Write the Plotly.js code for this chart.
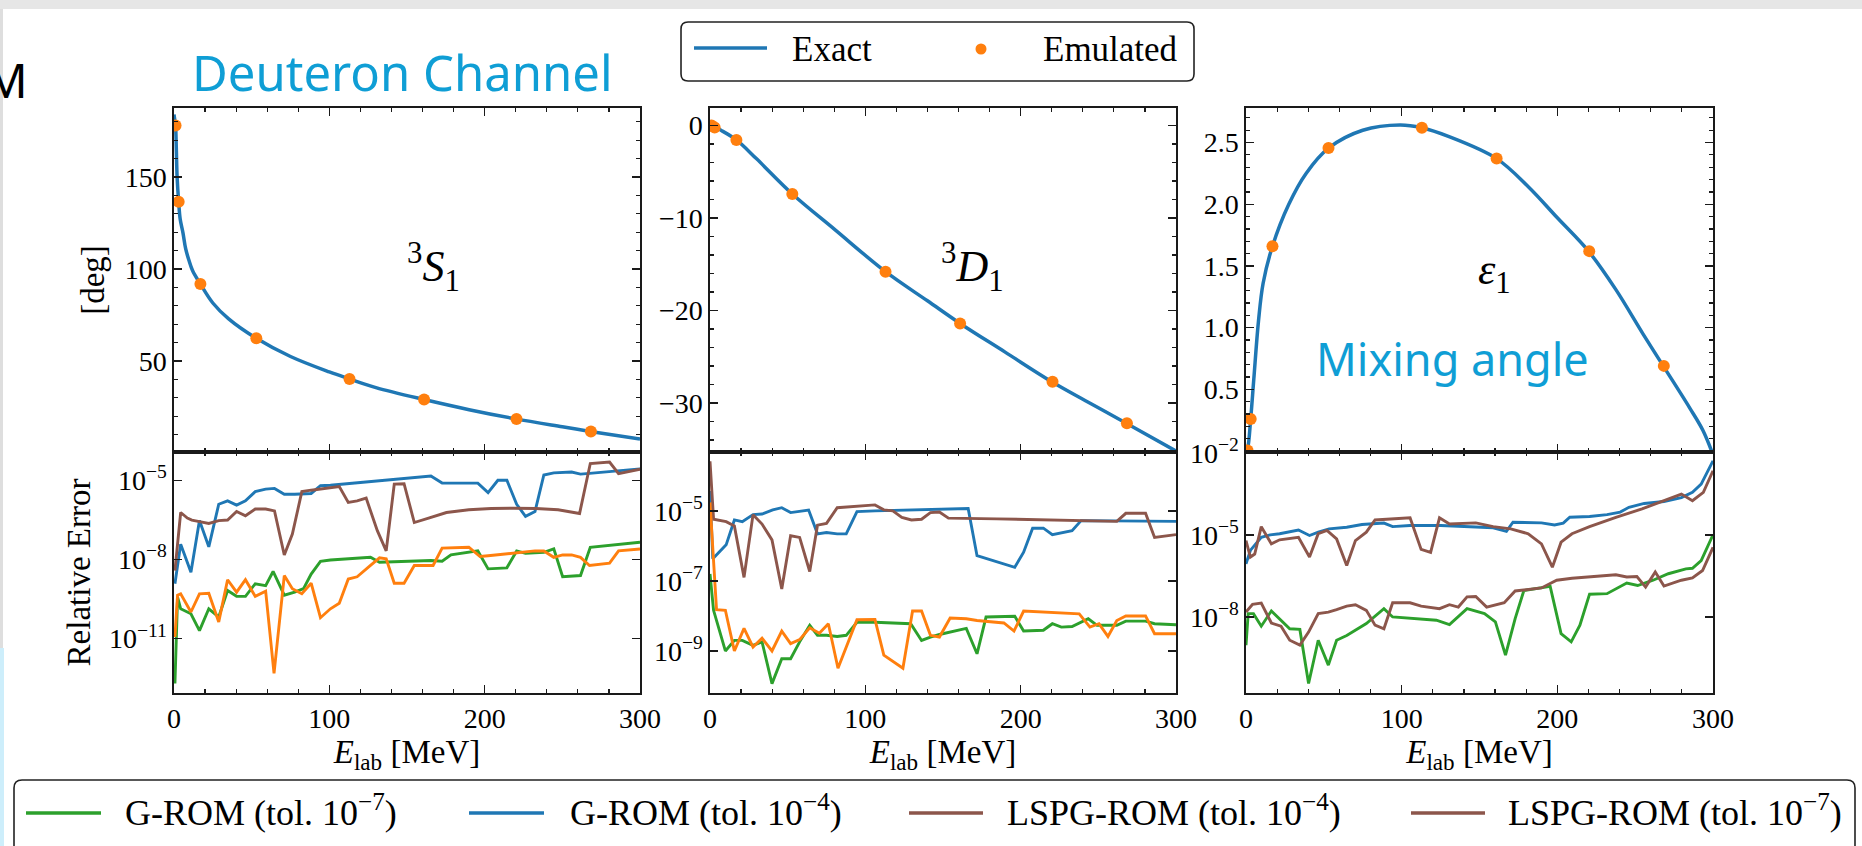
<!DOCTYPE html>
<html><head><meta charset="utf-8">
<script src="https://cdn.plot.ly/plotly-3.0.1.min.js"></script>
<style>html,body{margin:0;padding:0;background:#fff;overflow:hidden}#chart{width:1862px;height:846px}</style>
</head><body><div id="chart"></div>
<script>
// ---------------- DATA ----------------
// Emulated points (shared energies) and exact curves, E_lab in MeV
const emuE = [1, 3, 17, 53, 113, 161, 220.5, 268.4];
const emuS1 = [178, 136.5, 91.8, 62.3, 40.2, 29, 18.5, 11.7];
const emuD1 = [0, -0.2, -1.55, -7.4, -15.8, -21.4, -27.7, -32.2];
const emuEps1 = [0.005, 0.26, 1.66, 2.455, 2.62, 2.37, 1.62, 0.69];

const exactS1E = [0, 0.5, 1, 1.5, 2, 3, 4, 5.8, 7.5, 9.5, 12, 17, 25, 35, 53, 75, 100, 113, 130, 161, 190, 220, 250, 268, 300];
const exactS1 = [184, 181, 178, 165, 150, 136.5, 127, 119.5, 111, 105, 99, 91.8, 81.5, 73, 62.3, 52.4, 44.0, 40.2, 35.5, 29, 23.5, 18.5, 14.2, 11.7, 7.6];
const exactD1E = [0, 3, 8, 17, 30, 53, 80, 113, 140, 161, 190, 220, 245, 268, 300];
const exactD1 = [0, -0.15, -0.6, -1.55, -3.6, -7.4, -11.2, -15.8, -18.95, -21.4, -24.5, -27.7, -30.05, -32.2, -35.2];
const exactEpsE = [0, 1, 3, 5, 8, 11, 17, 27.5, 38.6, 53, 75, 99, 113, 130, 161, 181.5, 200, 220, 237.5, 255, 268, 285, 293.4, 300];
const exactEps = [0, 0.02, 0.26, 0.58, 1.05, 1.36, 1.66, 2.0, 2.25, 2.455, 2.6, 2.643, 2.62, 2.55, 2.37, 2.14, 1.89, 1.62, 1.31, 0.95, 0.69, 0.35, 0.17, -0.03];

// Relative errors, 3S1 panel
const s1GromT7E = [0.6, 2.3, 4.3, 10.9, 16.4, 22.4, 28.8, 34.5, 40.3, 46.0, 52.3, 59.0, 63.8, 71.0, 77.7, 83.4, 88.3, 94.3, 100.7, 126.5, 132.3, 165.4, 172.6, 178.3, 195.6, 202.2, 214.3, 220.6, 226.3, 238.1, 244.5, 250.2, 261.7, 268.0, 300];
const s1GromT7 = [2.0e-13, 3.7e-10, 1.35e-10, 8.7e-11, 2.0e-11, 1.35e-10, 6.6e-11, 6.6e-10, 4.0e-10, 4.0e-10, 1.2e-9, 1.02e-9, 3.5e-9, 4.4e-10, 5.75e-10, 7.8e-10, 2.8e-9, 8.5e-9, 9.5e-9, 1.2e-8, 7.8e-9, 9.1e-9, 8.5e-9, 1.48e-8, 2.1e-8, 4.4e-9, 4.8e-9, 2.1e-8, 1.7e-8, 1.86e-8, 2.5e-8, 2.2e-9, 2.45e-9, 2.9e-8, 4.5e-8];
const s1GromT4E = [0.6, 4.3, 10.9, 16.4, 22.4, 28.8, 34.5, 40.3, 46.0, 52.3, 59.0, 64.7, 71.0, 77.7, 88.3, 94.3, 100.7, 165.4, 172.6, 195.6, 202.2, 208.5, 214.3, 220.6, 226.3, 232.4, 238.1, 244.5, 256.0, 261.7, 267.5, 300];
const s1GromT4 = [1.2e-9, 3.8e-8, 3.3e-9, 3.0e-7, 3.0e-8, 1.23e-6, 1.66e-6, 1.15e-6, 1.66e-6, 3.7e-6, 4.6e-6, 4.9e-6, 2.95e-6, 2.95e-6, 3.16e-6, 6.2e-6, 6.5e-6, 1.45e-5, 7.8e-6, 7.8e-6, 3.4e-6, 1.0e-5, 1.0e-5, 1.23e-6, 4.3e-7, 6.5e-7, 1.58e-5, 1.9e-5, 2.04e-5, 1.7e-5, 1.82e-5, 2.7e-5];
const s1LspgT4E = [0.6, 4.3, 8.6, 11.5, 16.4, 22.4, 28.8, 34.5, 40.3, 46.0, 52.3, 59.0, 64.7, 71.0, 76.2, 82.3, 88.3, 94.3, 100.7, 106.4, 112.2, 117.9, 123.7, 130.9, 136.6, 141.8, 148.1, 154.7, 163.9, 175.4, 189.8, 204.2, 218.6, 233.0, 247.3, 261.1, 268.0, 274.7, 280.4, 286.2, 300];
const s1LspgT4 = [3.8e-9, 6.0e-7, 3.7e-7, 3.1e-7, 2.7e-7, 2.3e-7, 2.95e-7, 3.1e-7, 6.6e-7, 4.5e-7, 8.1e-7, 8.1e-7, 6.9e-7, 1.48e-8, 9.1e-8, 3.7e-6, 4.2e-6, 4.6e-6, 5.25e-6, 5.75e-6, 1.45e-6, 1.66e-6, 2.1e-6, 1.23e-7, 2.1e-8, 7.1e-6, 7.4e-6, 2.5e-7, 3.7e-7, 6.0e-7, 7.6e-7, 8.5e-7, 8.7e-7, 8.5e-7, 7.6e-7, 5.5e-7, 4.3e-5, 4.7e-5, 4.9e-5, 1.78e-5, 2.6e-5];
const s1LspgT7E = [0.6, 2.3, 4.3, 10.9, 16.4, 22.4, 28.8, 34.5, 40.3, 46.0, 52.3, 59.0, 64.4, 71.0, 76.2, 82.3, 88.3, 94.3, 100.7, 106.4, 112.2, 117.9, 126.5, 132.3, 136.6, 141.8, 148.1, 154.7, 166.8, 172.6, 189.8, 197.0, 202.2, 214.3, 220.6, 232.4, 238.1, 244.5, 250.2, 256.0, 261.7, 267.5, 280.4, 286.2, 300];
const s1LspgT7 = [1.15e-11, 4.4e-10, 5.0e-10, 1.02e-10, 5.0e-10, 5.25e-10, 4.3e-11, 1.7e-9, 5.75e-10, 1.7e-9, 4.0e-10, 6.3e-10, 4.8e-13, 2.45e-9, 7.8e-10, 5.0e-10, 1.26e-9, 6.2e-11, 1.35e-10, 2.2e-10, 1.82e-9, 2.2e-9, 5.9e-9, 1.15e-8, 1.05e-8, 1.26e-9, 1.26e-9, 5.9e-9, 5.9e-9, 2.7e-8, 2.9e-8, 1.29e-8, 1.38e-8, 1.62e-8, 1.78e-8, 2.1e-8, 2.1e-8, 1.2e-8, 1.48e-8, 1.48e-8, 1.2e-8, 5.9e-9, 7.2e-9, 2.1e-8, 2.5e-8];

// Relative errors, 3D1 panel
const d1GromT7E = [0, 2.3, 9.9, 15.7, 20.8, 27.7, 33.5, 39.9, 46.2, 51.9, 57.7, 64.2, 69.2, 75.0, 81.9, 87.7, 94.6, 106.2, 129.2, 136.2, 141.9, 147.7, 165.0, 171.9, 177.7, 196.2, 201.9, 214.6, 220.4, 226.2, 233.1, 243.5, 249.2, 261.9, 267.7, 280.4, 286.2, 300];
const d1GromT7 = [1.58e-7, 1.45e-8, 1.0e-9, 2.0e-9, 2.0e-9, 1.45e-9, 1.82e-9, 1.17e-10, 6.0e-10, 6.0e-10, 1.82e-9, 5.4e-9, 2.8e-9, 2.8e-9, 2.6e-9, 2.8e-9, 6.6e-9, 6.6e-9, 6.0e-9, 2.0e-9, 2.5e-9, 2.95e-9, 4.4e-9, 8.3e-10, 9.3e-9, 9.8e-9, 3.7e-9, 3.9e-9, 6.0e-9, 4.8e-9, 5.0e-9, 8.3e-9, 5.4e-9, 5.4e-9, 7.1e-9, 7.1e-9, 6.0e-9, 5.6e-9];
const d1GromT4E = [0, 1.8, 5.8, 10.4, 15.7, 20.8, 27.7, 33.5, 40.4, 46.2, 51.9, 57.7, 63.5, 69.2, 75.0, 81.9, 87.7, 94.6, 106.2, 166.2, 171.9, 196.2, 201.9, 207.7, 214.6, 220.4, 233.1, 238.9, 300];
const d1GromT4 = [3.7e-5, 4.3e-7, 6.6e-7, 1.07e-6, 5.5e-6, 4.9e-6, 7.8e-6, 8.1e-6, 1.07e-5, 1.23e-5, 8.9e-6, 9.5e-6, 1.05e-5, 2.2e-6, 2.4e-6, 2.2e-6, 2.2e-6, 9.5e-6, 1.0e-5, 1.17e-5, 5.25e-7, 2.45e-7, 6.6e-7, 3.2e-6, 3.2e-6, 2.1e-6, 2.7e-6, 5.25e-6, 5.0e-6];
const d1LspgT4E = [0, 2.3, 10.4, 15.7, 21.9, 27.7, 33.5, 39.9, 46.2, 51.9, 57.7, 64.2, 69.2, 75.0, 81.9, 94.6, 106.2, 111.9, 117.7, 123.5, 129.7, 136.2, 141.9, 147.7, 153.5, 184.6, 219.2, 244.6, 261.9, 267.7, 280.4, 286.2, 300];
const d1LspgT4 = [2.6e-4, 5.75e-6, 4.9e-6, 3.7e-6, 1.26e-7, 7.8e-6, 4.2e-6, 1.48e-6, 5.9e-8, 1.95e-6, 1.74e-6, 1.86e-7, 3.9e-6, 4.4e-6, 1.23e-5, 1.38e-5, 1.48e-5, 1.07e-5, 1.0e-5, 6.5e-6, 5.5e-6, 5.75e-6, 8.9e-6, 9.3e-6, 6.2e-6, 5.9e-6, 5.5e-6, 5.25e-6, 5.0e-6, 8.5e-6, 8.5e-6, 1.74e-6, 2.1e-6];
const d1LspgT7E = [0, 4.2, 9.9, 15.7, 21.9, 27.7, 33.5, 39.9, 46.2, 51.9, 57.7, 64.2, 70.4, 76.2, 82.4, 94.6, 106.2, 111.9, 124.2, 130.4, 136.2, 141.9, 147.7, 154.6, 165.0, 171.9, 189.2, 195.7, 201.9, 237.7, 244.6, 250.4, 256.2, 261.9, 267.7, 280.4, 286.2, 300];
const d1LspgT7 = [1.74e-5, 1.51e-8, 1.45e-8, 1.0e-9, 4.4e-9, 1.29e-9, 2.3e-9, 1.0e-9, 3.7e-9, 1.62e-9, 2.1e-9, 4.6e-9, 3.2e-9, 6.0e-9, 3.2e-10, 7.8e-9, 7.9e-9, 7.6e-10, 3.2e-10, 1.38e-8, 1.38e-8, 2.8e-9, 2.5e-9, 8.7e-9, 8.3e-9, 7.4e-9, 6.3e-9, 3.7e-9, 1.38e-8, 1.15e-8, 4.8e-9, 6.0e-9, 2.6e-9, 7.4e-9, 1.0e-8, 1.0e-8, 3.1e-9, 3.1e-9];

// Relative errors, epsilon_1 panel
const epsGromT7E = [0, 1.4, 4.8, 9.8, 16.3, 28.1, 34.6, 40.2, 46.4, 52.9, 58.2, 64.7, 77.3, 88.6, 94.2, 122.3, 130.7, 142.0, 153.2, 160.2, 166.7, 172.9, 178.5, 195.4, 202.4, 208.9, 214.5, 220.7, 231.9, 244.6, 251.6, 261.5, 271.3, 282.6, 286.8, 292.4, 300];
const epsGromT7 = [9.3e-10, 1.32e-8, 1.32e-8, 4.6e-9, 1.66e-8, 3.7e-9, 3.5e-9, 3.7e-11, 1.41e-9, 1.74e-10, 1.41e-9, 2.1e-9, 5.75e-9, 2.0e-8, 1.0e-8, 7.6e-9, 5.25e-9, 2.0e-8, 1.32e-8, 6.6e-9, 4.0e-10, 8.7e-9, 9.3e-8, 1.32e-7, 2.45e-9, 1.23e-9, 5.0e-9, 6.8e-8, 7.1e-8, 1.74e-7, 1.41e-7, 2.2e-7, 3.8e-7, 5.75e-7, 6.0e-7, 1.15e-6, 1.0e-5];
const epsGromT4E = [0, 2.8, 9.8, 15.5, 21.6, 26.7, 33.7, 40.8, 46.4, 53.4, 64.7, 74.5, 88.6, 94.2, 105.4, 125.1, 147.6, 158.8, 167.3, 171.5, 189.8, 198.2, 203.8, 208.0, 220.7, 231.9, 240.4, 246.0, 255.8, 268.5, 279.7, 286.8, 292.4, 300];
const epsGromT4 = [8.7e-7, 2.7e-6, 8.1e-6, 1.0e-5, 1.1e-5, 1.26e-5, 1.51e-5, 9.5e-6, 1.26e-5, 1.66e-5, 1.9e-5, 2.4e-5, 2.7e-5, 2.0e-5, 2.2e-5, 2.2e-5, 2.0e-5, 1.82e-5, 1.35e-5, 2.9e-5, 2.75e-5, 2.3e-5, 2.7e-5, 4.4e-5, 4.7e-5, 5.5e-5, 6.8e-5, 1.02e-4, 1.41e-4, 1.66e-4, 2.3e-4, 3.6e-4, 7.2e-4, 5.1e-3];
const epsLspgT4E = [0, 2.8, 5.6, 9.8, 16.3, 21.6, 33.7, 40.8, 46.4, 52.0, 58.2, 64.7, 70.3, 77.3, 82.9, 94.2, 105.4, 112.5, 118.6, 124.3, 130.7, 147.6, 158.8, 170.1, 181.3, 189.8, 196.8, 202.4, 209.4, 220.7, 237.6, 254.4, 265.7, 279.7, 286.8, 293.8, 300];
const epsLspgT4 = [6.2e-6, 1.55e-6, 2.0e-6, 2.0e-5, 4.7e-6, 6.6e-6, 8.1e-6, 1.55e-6, 1.1e-5, 1.45e-5, 7.1e-6, 7.6e-7, 6.2e-6, 1.26e-5, 3.5e-5, 3.8e-5, 4.2e-5, 2.95e-6, 2.3e-6, 4.2e-5, 2.5e-5, 2.75e-5, 2.0e-5, 1.66e-5, 1.1e-5, 4.7e-6, 6.6e-7, 5.4e-6, 1.1e-5, 2.0e-5, 4.4e-5, 8.9e-5, 1.55e-4, 3.1e-4, 1.78e-4, 3.6e-4, 2.2e-3];
const epsLspgT7E = [0, 4.2, 9.8, 16.3, 22.5, 28.1, 34.6, 40.2, 46.4, 52.9, 58.2, 64.7, 70.3, 77.3, 82.9, 88.6, 94.2, 105.4, 112.5, 124.3, 130.7, 136.4, 142.0, 147.6, 154.6, 165.9, 172.9, 189.8, 199.6, 209.4, 237.6, 244.6, 251.1, 256.7, 262.9, 268.5, 279.7, 286.8, 293.3, 300];
const epsLspgT7 = [1.51e-8, 2.9e-8, 3.2e-8, 6.0e-9, 4.6e-9, 1.41e-9, 9.3e-10, 2.8e-9, 1.32e-8, 1.51e-8, 1.86e-8, 2.5e-8, 2.8e-8, 1.74e-8, 5.0e-9, 3.7e-9, 3.3e-8, 3.3e-8, 2.5e-8, 2.0e-8, 2.8e-8, 2.3e-8, 5.4e-8, 5.6e-8, 2.3e-8, 3.3e-8, 8.9e-8, 1.15e-7, 2.2e-7, 2.6e-7, 3.5e-7, 2.9e-7, 3.0e-7, 1.23e-7, 4.4e-7, 1.35e-7, 2.2e-7, 2.7e-7, 5.0e-7, 3.5e-6];

// Labels
const legendTopLabels = ['Exact', 'Emulated'];
const legendBottomLabels = ['G-ROM (tol. 10<sup>−7</sup>)', 'G-ROM (tol. 10<sup>−4</sup>)', 'LSPG-ROM (tol. 10<sup>−4</sup>)', 'LSPG-ROM (tol. 10<sup>−7</sup>)'];
const panelLabels = ['<sup>3</sup><i>S</i><sub>1</sub>', '<sup>3</sup><i>D</i><sub>1</sub>', '<i>ε</i><sub>1</sub>'];

// ---------------- STYLE ----------------
const W = 1862, H = 846;
const px = v => v / W, py = v => 1 - v / H;
const SERIF = '"Liberation Serif", "Times New Roman", serif';
const SANS = '"Noto Sans", "Open Sans", sans-serif';
const C = {blue: '#1f77b4', orange: '#ff7f0e', green: '#2ca02c', brown: '#8c564b', ink: '#1a1a1a', accent: '#0F9ED5'};

const traces = [];
function exactTrace(x, y, xa, ya) {
  traces.push({x, y, xaxis: xa, yaxis: ya, type: 'scatter', mode: 'lines', name: 'Exact',
    line: {color: C.blue, width: 3.5, shape: 'spline', smoothing: 1}, showlegend: false, hoverinfo: 'skip'});
}
function emuTrace(x, y, xa, ya) {
  traces.push({x, y, xaxis: xa, yaxis: ya, type: 'scatter', mode: 'markers', name: 'Emulated',
    marker: {color: C.orange, size: 12}, showlegend: false, hoverinfo: 'skip'});
}
function errTrace(x, y, color, name, xa, ya) {
  traces.push({x, y, xaxis: xa, yaxis: ya, type: 'scatter', mode: 'lines', name,
    line: {color, width: 2.9}, showlegend: false, hoverinfo: 'skip'});
}
exactTrace(exactS1E, exactS1, 'x', 'y');   emuTrace(emuE, emuS1, 'x', 'y');
exactTrace(exactD1E, exactD1, 'x2', 'y2'); emuTrace(emuE, emuD1, 'x2', 'y2');
exactTrace(exactEpsE, exactEps, 'x3', 'y3'); emuTrace(emuE, emuEps1, 'x3', 'y3');

errTrace(s1GromT7E, s1GromT7, C.green, 'G-ROM (tol. 1e-7)', 'x4', 'y4');
errTrace(s1GromT4E, s1GromT4, C.blue, 'G-ROM (tol. 1e-4)', 'x4', 'y4');
errTrace(s1LspgT4E, s1LspgT4, C.brown, 'LSPG-ROM (tol. 1e-4)', 'x4', 'y4');
errTrace(s1LspgT7E, s1LspgT7, C.orange, 'LSPG-ROM (tol. 1e-7)', 'x4', 'y4');

errTrace(d1GromT7E, d1GromT7, C.green, 'G-ROM (tol. 1e-7)', 'x5', 'y5');
errTrace(d1GromT4E, d1GromT4, C.blue, 'G-ROM (tol. 1e-4)', 'x5', 'y5');
errTrace(d1LspgT4E, d1LspgT4, C.brown, 'LSPG-ROM (tol. 1e-4)', 'x5', 'y5');
errTrace(d1LspgT7E, d1LspgT7, C.orange, 'LSPG-ROM (tol. 1e-7)', 'x5', 'y5');

errTrace(epsGromT7E, epsGromT7, C.green, 'G-ROM (tol. 1e-7)', 'x6', 'y6');
errTrace(epsGromT4E, epsGromT4, C.blue, 'G-ROM (tol. 1e-4)', 'x6', 'y6');
errTrace(epsLspgT4E, epsLspgT4, C.brown, 'LSPG-ROM (tol. 1e-4)', 'x6', 'y6');
errTrace(epsLspgT7E, epsLspgT7, C.brown, 'LSPG-ROM (tol. 1e-7)', 'x6', 'y6');

const colX = [[px(174), px(640)], [px(710), px(1176)], [px(1246), px(1713)]];
const topY = [py(452), py(108)], botY = [py(693), py(452)];
const tickFont = {family: SERIF, size: 28, color: '#000'};
const titleFont = {family: SERIF, size: 33, color: '#000'};
const base = {showline: true, linecolor: C.ink, linewidth: 1.6, mirror: 'allticks', ticks: 'inside',
  ticklen: 8, tickwidth: 1.4, tickcolor: C.ink, showgrid: false, zeroline: false, tickfont: tickFont};
const minor = d => ({dtick: d, ticklen: 4, tickwidth: 1.2, tickcolor: C.ink, ticks: 'inside', showgrid: false});

function xAxis(i, anchor, isBottom) {
  const a = Object.assign({}, base, {domain: colX[i], anchor, range: [0, 300], tick0: 0, dtick: 100,
    minor: minor(20), showticklabels: isBottom});
  if (isBottom) a.title = {text: '<i>E</i><sub>lab</sub> [MeV]', font: titleFont, standoff: 6};
  return a;
}
const sup = e => '10<sup>−' + e + '</sup>';
const layout = {
  width: W, height: H, margin: {l: 0, r: 0, t: 0, b: 0}, paper_bgcolor: '#fff', plot_bgcolor: '#fff',
  font: {family: SERIF, color: '#000'}, showlegend: false,
  xaxis: xAxis(0, 'y', false), xaxis2: xAxis(1, 'y2', false), xaxis3: xAxis(2, 'y3', false),
  xaxis4: xAxis(0, 'y4', true), xaxis5: xAxis(1, 'y5', true), xaxis6: xAxis(2, 'y6', true),
  yaxis: Object.assign({}, base, {domain: topY, anchor: 'x', range: [0.5, 187.5], tick0: 0, dtick: 50, minor: minor(10),
    title: {text: '[deg]', font: titleFont, standoff: 10}}),
  yaxis2: Object.assign({}, base, {domain: topY, anchor: 'x2', range: [-35.3, 1.9], tick0: 0, dtick: 10, minor: minor(2)}),
  yaxis3: Object.assign({}, base, {domain: topY, anchor: 'x3', range: [-0.008, 2.78], tickvals: [0.5, 1, 1.5, 2, 2.5],
    ticktext: ['0.5', '1.0', '1.5', '2.0', '2.5'], minor: minor(0.1)}),
  yaxis4: Object.assign({}, base, {domain: botY, anchor: 'x4', type: 'log', range: [-13.06, -3.93],
    tickvals: [1e-11, 1e-8, 1e-5], ticktext: [sup(11), sup(8), sup(5)],
    title: {text: 'Relative Error', font: titleFont, standoff: 8}}),
  yaxis5: Object.assign({}, base, {domain: botY, anchor: 'x5', type: 'log', range: [-10.2, -3.32],
    tickvals: [1e-9, 1e-7, 1e-5], ticktext: [sup(9), sup(7), sup(5)]}),
  yaxis6: Object.assign({}, base, {domain: botY, anchor: 'x6', type: 'log', range: [-10.78, -1.97],
    tickvals: [1e-8, 1e-5, 1e-2], ticktext: [sup(8), sup(5), sup(2)]}),
  annotations: [], shapes: []
};

const ann = (text, x, y, font, xanchor) => layout.annotations.push({text, x: px(x), y: py(y), xref: 'paper', yref: 'paper',
  xanchor: xanchor || 'center', yanchor: 'middle', showarrow: false, font});
// slide texts
ann('M', 30, 80, {family: SANS, size: 47, color: '#000'}, 'right');
ann('Deuteron Channel', 402, 72, {family: SANS, size: 49, color: C.accent});
ann('Mixing angle', 1452, 358, {family: SANS, size: 45, color: C.accent});
// panel labels
ann(panelLabels[0], 433, 267, {family: SERIF, size: 44, color: '#000'});
ann(panelLabels[1], 972, 267, {family: SERIF, size: 44, color: '#000'});
ann(panelLabels[2], 1494, 272, {family: SERIF, size: 44, color: '#000'});

// decorative frame of the slide screenshot
const rect = (x0, y0, x1, y1, color) => layout.shapes.push({type: 'rect', xref: 'paper', yref: 'paper',
  x0: px(x0), x1: px(x1), y0: py(y1), y1: py(y0), fillcolor: color, line: {width: 0}, layer: 'below'});
rect(0, 0, W, 9, '#e6e6e6');
rect(0, 9, 3, 648, '#dedede');
rect(0, 648, 4, H, '#cdeefb');

function roundRect(x0, y0, x1, y1, r) {
  const X = v => px(v).toFixed(5), Y = v => py(v).toFixed(5);
  const p = 'M' + X(x0 + r) + ',' + Y(y0) + ' L' + X(x1 - r) + ',' + Y(y0) + ' Q' + X(x1) + ',' + Y(y0) + ' ' + X(x1) + ',' + Y(y0 + r) +
    ' L' + X(x1) + ',' + Y(y1 - r) + ' Q' + X(x1) + ',' + Y(y1) + ' ' + X(x1 - r) + ',' + Y(y1) +
    ' L' + X(x0 + r) + ',' + Y(y1) + ' Q' + X(x0) + ',' + Y(y1) + ' ' + X(x0) + ',' + Y(y1 - r) +
    ' L' + X(x0) + ',' + Y(y0 + r) + ' Q' + X(x0) + ',' + Y(y0) + ' ' + X(x0 + r) + ',' + Y(y0) + ' Z';
  layout.shapes.push({type: 'path', xref: 'paper', yref: 'paper', path: p, line: {color: '#222', width: 1.6}, fillcolor: 'rgba(0,0,0,0)'});
}
const seg = (x0, x1, y, color) => layout.shapes.push({type: 'line', xref: 'paper', yref: 'paper',
  x0: px(x0), x1: px(x1), y0: py(y), y1: py(y), line: {color, width: 3.5}});

// top legend
roundRect(681, 22, 1194, 81, 7);
seg(694, 767, 48, C.blue);
layout.shapes.push({type: 'circle', xref: 'paper', yref: 'paper', x0: px(975.5), x1: px(986.5), y0: py(54.5), y1: py(43.5),
  fillcolor: C.orange, line: {width: 0}});
ann(legendTopLabels[0], 790, 49, {family: SERIF, size: 35, color: '#000'}, 'left');
ann(legendTopLabels[1], 1041, 49, {family: SERIF, size: 35, color: '#000'}, 'left');

// bottom legend
roundRect(14, 780, 1855, 880, 8);
const botSamples = [[26, 101, C.green], [469, 544, C.blue], [909, 983, C.brown], [1411, 1485, C.brown]];
const botTextX = [123, 568, 1005, 1506];
botSamples.forEach((s, i) => { seg(s[0], s[1], 813, s[2]); ann(legendBottomLabels[i], botTextX[i], 810, {family: SERIF, size: 36, color: '#000'}, 'left'); });

Plotly.newPlot('chart', traces, layout, {staticPlot: true, displayModeBar: false});
</script></body></html>
